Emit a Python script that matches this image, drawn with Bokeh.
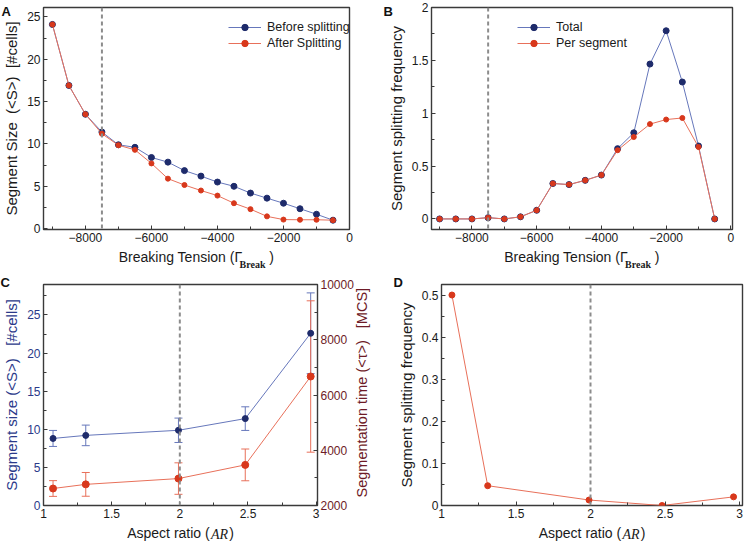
import math
from bokeh.plotting import figure
from bokeh.layouts import column, row
from bokeh.models import (Span, Whisker, ColumnDataSource, LinearAxis, Range1d,
                          Legend, LegendItem, FixedTicker, TeeHead, CustomJSTickFormatter)
from bokeh.embed import file_html
from bokeh.resources import INLINE

# ---------------- data ----------------
tension = [-9000, -8500, -8000, -7500, -7000, -6500, -6000, -5500, -5000,
           -4500, -4000, -3500, -3000, -2500, -2000, -1500, -1000, -500]
size_before = [24.1, 16.9, 13.5, 11.4, 9.9, 9.6, 8.4, 7.85, 6.85,
               6.2, 5.5, 5.0, 4.2, 3.6, 3.0, 2.35, 1.7, 1.0]
size_after = [24.1, 16.9, 13.5, 11.2, 9.85, 9.3, 7.7, 5.9, 5.15,
              4.5, 3.9, 3.0, 2.3, 1.45, 1.07, 1.05, 1.05, 1.0]
freq_total = [0.0, 0.0, 0.0, 0.012, 0.0, 0.02, 0.082, 0.335, 0.325,
              0.365, 0.415, 0.665, 0.815, 1.465, 1.78, 1.295, 0.69, 0.0]
freq_per_segment = [0.0, 0.0, 0.0, 0.012, 0.0, 0.02, 0.082, 0.335, 0.325,
                    0.365, 0.415, 0.65, 0.775, 0.897, 0.94, 0.955, 0.68, 0.0]
threshold_tension = -7500

aspect_ratio = [1.07, 1.31, 1.99, 2.48, 2.96]
seg_size = [8.8, 9.2, 9.87, 11.4, 22.6]
seg_size_err = [1.05, 1.35, 1.6, 1.55, 5.3]
seg_time = [2615, 2765, 2975, 3470, 6670]
seg_time_err = [285, 430, 570, 575, 2740]
split_freq = [0.5, 0.047, 0.013, 0.0, 0.0205]
threshold_ar = 2

tension_major = [-8000, -6000, -4000, -2000, 0]
tension_minor = [-9000, -7000, -5000, -3000, -1000]
ar_major = [1, 1.5, 2, 2.5, 3]
ar_minor = [1.25, 1.75, 2.25, 2.75]

# ---------------- style ----------------
FONT = "Liberation Sans"
SERIF = "Liberation Serif"
TXT = "#1a1a1a"
FRAME = "#3a3a3a"
BLUE_L = "#6677bb"
BLUE_M = "#1e2b6b"
RED_L = "#e8705a"
RED_M = "#d8381c"
BLUE_AX = "#2b3a8a"
MAROON = "#6e1b27"
NB = "\u00a0"

neg_fmt = CustomJSTickFormatter(code="return tick < 0 ? '\\u2212' + Math.abs(tick) : String(tick);")
plain_fmt = CustomJSTickFormatter(code="return String(tick);")


def make_fig(x_range, y_range, fw, fh, bl, br, bt, bb, letter, letter_off, letter_standoff):
    p = figure(x_range=x_range, y_range=y_range, frame_width=fw, frame_height=fh,
               min_border_left=bl, min_border_right=br, min_border_top=bt, min_border_bottom=bb,
               output_backend="svg", toolbar_location=None)
    p.xgrid.visible = False
    p.ygrid.visible = False
    p.outline_line_color = FRAME
    p.outline_line_width = 1.4
    p.background_fill_color = "white"
    p.border_fill_color = "white"
    p.title.text = letter
    p.title.align = "left"
    p.title.offset = letter_off
    p.title.standoff = letter_standoff
    p.title.text_font = FONT
    p.title.text_font_size = "13px"
    p.title.text_font_style = "bold"
    p.title.text_color = "#111111"
    return p


def style_axis(ax, color=TXT, label_size="14px"):
    ax.axis_line_color = None
    ax.major_tick_in = 4
    ax.major_tick_out = 0
    ax.minor_tick_in = 3
    ax.minor_tick_out = 0
    ax.major_tick_line_color = FRAME
    ax.minor_tick_line_color = FRAME
    ax.major_label_text_font = FONT
    ax.major_label_text_font_size = "12px"
    ax.major_label_text_color = color
    ax.major_label_standoff = 3
    ax.axis_label_text_font = FONT
    ax.axis_label_text_font_size = label_size
    ax.axis_label_text_font_style = "normal"
    ax.axis_label_text_color = color
    ax.axis_label_standoff = 4


def text_axis(text, ticker_pos, font, style, size, standoff, color=TXT, y_range_name=None,
              orientation=None):
    """Text-only axis: one tick, no lines, whose label carries a piece of text."""
    kw = {} if y_range_name is None else {"y_range_name": y_range_name}
    ax = LinearAxis(ticker=FixedTicker(ticks=[ticker_pos], minor_ticks=[]),
                    formatter=CustomJSTickFormatter(code="return %r;" % text), **kw)
    ax.axis_line_color = None
    ax.major_tick_line_color = None
    ax.minor_tick_line_color = None
    ax.major_tick_in = 0
    ax.major_tick_out = 0
    ax.major_label_standoff = standoff
    ax.major_label_text_font = font
    ax.major_label_text_font_style = style
    ax.major_label_text_font_size = size
    ax.major_label_text_color = color
    if orientation is not None:
        ax.major_label_orientation = orientation
    return ax


def x_at(p, fw, offset_px):
    xr = p.x_range
    return xr.start + (fw / 2 + offset_px) * (xr.end - xr.start) / fw


def tension_xlabel(p, fw):
    p.xaxis[0].axis_label = "Breaking Tension (\u0393" + NB * 7 + ")"
    p.add_layout(text_axis("Break", x_at(p, fw, 56), SERIF, "bold", "10px", -9), "below")


def ar_xlabel(p, fw):
    p.xaxis[0].axis_label = "Aspect ratio (" + NB * 5 + ")"
    p.add_layout(text_axis("AR", x_at(p, fw, 39), SERIF, "italic", "14px", -17), "below")


def vspan(p, loc):
    p.add_layout(Span(location=loc, dimension="height", line_color="#8c8c8c",
                      line_width=2, line_dash="4 3"))


def legend(p, items, x, y):
    lg = Legend(items=items, location=(x, y), border_line_color=None,
                background_fill_alpha=0, padding=0, margin=0, spacing=0,
                glyph_width=33, glyph_height=16, label_height=16, label_standoff=6,
                label_text_font=FONT, label_text_font_size="12.5px", label_text_color=TXT)
    p.add_layout(lg)


TOP_FH = 222
BOT_FH = 221

# ---------------- Panel A ----------------
fwA = 306
pA = make_fig(Range1d(-9270, 0), Range1d(-0.1, 26.1), fwA, TOP_FH, 38, 21, 7, 38, "A", -42, -22)
lbA = pA.line(tension, size_before, line_color=BLUE_L, line_width=1)
sbA = pA.scatter(tension, size_before, size=6, color=BLUE_M)
laA = pA.line(tension, size_after, line_color=RED_L, line_width=1)
saA = pA.scatter(tension, size_after, size=5, color=RED_M)
vspan(pA, threshold_tension)
for ax in pA.xaxis:
    style_axis(ax)
style_axis(pA.yaxis[0], label_size="15px")
pA.xaxis.ticker = FixedTicker(ticks=tension_major, minor_ticks=tension_minor)
pA.xaxis.formatter = neg_fmt
pA.yaxis.ticker = FixedTicker(ticks=[0, 5, 10, 15, 20, 25],
                              minor_ticks=[2.5, 7.5, 12.5, 17.5, 22.5])
pA.yaxis.formatter = plain_fmt
pA.yaxis.axis_label = "Segment Size" + NB + " (<S>)" + NB + " [#cells]"
tension_xlabel(pA, fwA)
legend(pA, [LegendItem(label="Before splitting", renderers=[lbA, sbA]),
            LegendItem(label="After Splitting", renderers=[laA, saA])], 185, TOP_FH - 44)

# ---------------- Panel B ----------------
fwB = 301
pB = make_fig(Range1d(-9250, 50), Range1d(-0.1, 2.0), fwB, TOP_FH, 61, 4, 7, 38, "B", -48, -22)
ltB = pB.line(tension, freq_total, line_color=BLUE_L, line_width=1)
stB = pB.scatter(tension, freq_total, size=6, color=BLUE_M)
lpB = pB.line(tension, freq_per_segment, line_color=RED_L, line_width=1)
spB = pB.scatter(tension, freq_per_segment, size=5, color=RED_M)
vspan(pB, threshold_tension)
for ax in pB.xaxis:
    style_axis(ax)
style_axis(pB.yaxis[0], label_size="15px")
pB.xaxis.ticker = FixedTicker(ticks=tension_major, minor_ticks=tension_minor)
pB.xaxis.formatter = neg_fmt
pB.yaxis.ticker = FixedTicker(ticks=[0, 0.5, 1, 1.5, 2], minor_ticks=[0.25, 0.75, 1.25, 1.75])
pB.yaxis.formatter = plain_fmt
pB.yaxis.axis_label = "Segment splitting frequency"
tension_xlabel(pB, fwB)
legend(pB, [LegendItem(label="Total", renderers=[ltB, stB]),
            LegendItem(label="Per segment", renderers=[lpB, spB])], 86, TOP_FH - 44)

# ---------------- Panel C ----------------
fwC = 274
pC = make_fig(Range1d(1, 3.01), Range1d(0, 29), fwC, BOT_FH, 38, 53, 12, 38, "C", -43, -10)
pC.extra_y_ranges = {"time": Range1d(2000, 10000)}
srcS = ColumnDataSource(dict(x=aspect_ratio, y=seg_size,
                             lo=[v - e for v, e in zip(seg_size, seg_size_err)],
                             hi=[v + e for v, e in zip(seg_size, seg_size_err)]))
srcT = ColumnDataSource(dict(x=aspect_ratio, y=seg_time,
                             lo=[v - e for v, e in zip(seg_time, seg_time_err)],
                             hi=[v + e for v, e in zip(seg_time, seg_time_err)]))
pC.add_layout(Whisker(source=srcS, base="x", lower="lo", upper="hi", line_color=BLUE_L, line_width=1,
                      upper_head=TeeHead(size=8, line_color=BLUE_L, line_width=1),
                      lower_head=TeeHead(size=8, line_color=BLUE_L, line_width=1)))
pC.line("x", "y", source=srcS, line_color=BLUE_L, line_width=1)
pC.scatter("x", "y", source=srcS, size=6, color=BLUE_M)
pC.add_layout(Whisker(source=srcT, base="x", lower="lo", upper="hi", line_color=RED_L, line_width=1,
                      y_range_name="time",
                      upper_head=TeeHead(size=8, line_color=RED_L, line_width=1),
                      lower_head=TeeHead(size=8, line_color=RED_L, line_width=1)))
pC.line("x", "y", source=srcT, line_color=RED_L, line_width=1, y_range_name="time")
pC.scatter("x", "y", source=srcT, size=7, color=RED_M, y_range_name="time")
vspan(pC, threshold_ar)
right_ax = LinearAxis(y_range_name="time")
pC.add_layout(right_ax, "right")
for ax in pC.xaxis:
    style_axis(ax)
style_axis(pC.yaxis[0], BLUE_AX, label_size="15px")
style_axis(right_ax, MAROON)
pC.xaxis[0].ticker = FixedTicker(ticks=ar_major, minor_ticks=ar_minor)
pC.xaxis[0].formatter = plain_fmt
pC.yaxis[0].ticker = FixedTicker(ticks=[0, 5, 10, 15, 20, 25],
                                 minor_ticks=[2.5, 7.5, 12.5, 17.5, 22.5, 27.5])
pC.yaxis[0].formatter = plain_fmt
pC.yaxis[0].axis_label = "Segment size (<S>)" + NB * 2 + " [#cells]"
right_ax.ticker = FixedTicker(ticks=[2000, 4000, 6000, 8000, 10000],
                              minor_ticks=[3000, 5000, 7000, 9000])
right_ax.formatter = plain_fmt
# right-hand label reading bottom-to-top: anchored at its start, 8 px above the frame bottom
yr = pC.extra_y_ranges["time"]
right_label_pos = yr.start + 8 / BOT_FH * (yr.end - yr.start)
pC.add_layout(text_axis("Segmentation time (<\u03c4>)" + NB * 2 + " [MCS]", right_label_pos,
                        FONT, "normal", "14.5px", 5, color=MAROON, y_range_name="time",
                        orientation=math.pi / 2), "right")
ar_xlabel(pC, fwC)

# ---------------- Panel D ----------------
fwD = 301
pD = make_fig(Range1d(1, 3.02), Range1d(0, 0.525), fwD, BOT_FH, 61, 4, 12, 38, "D", -48, -10)
pD.line(aspect_ratio, split_freq, line_color=RED_L, line_width=1)
pD.scatter(aspect_ratio, split_freq, size=6, color=RED_M)
vspan(pD, threshold_ar)
for ax in pD.xaxis:
    style_axis(ax)
style_axis(pD.yaxis[0], label_size="15px")
pD.xaxis[0].ticker = FixedTicker(ticks=ar_major, minor_ticks=ar_minor)
pD.xaxis[0].formatter = plain_fmt
pD.yaxis.ticker = FixedTicker(ticks=[0, 0.1, 0.2, 0.3, 0.4, 0.5],
                              minor_ticks=[0.05, 0.15, 0.25, 0.35, 0.45])
pD.yaxis.formatter = plain_fmt
pD.yaxis.axis_label = "Segment splitting frequency"
ar_xlabel(pD, fwD)

layout = column(row(pA, pB, spacing=0), row(pC, pD, spacing=0), spacing=0)
open("out.html", "w").write(file_html(layout, INLINE))
